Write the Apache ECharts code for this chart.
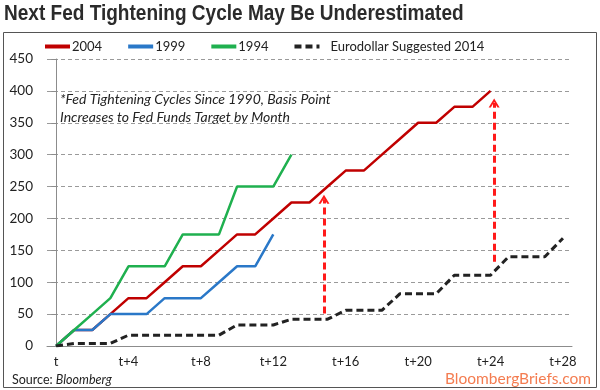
<!DOCTYPE html>
<html>
<head>
<meta charset="utf-8">
<script src="https://cdn.jsdelivr.net/npm/echarts@6/dist/echarts.min.js"></script>
<style>
html,body{margin:0;padding:0;background:#fff;}
#chart{width:600px;height:390px;}
</style>
</head>
<body>
<div id="chart"></div>
<script>
const categories = ['t','t+1','t+2','t+3','t+4','t+5','t+6','t+7','t+8','t+9','t+10','t+11','t+12','t+13','t+14',
  't+15','t+16','t+17','t+18','t+19','t+20','t+21','t+22','t+23','t+24','t+25','t+26','t+27','t+28'];
const cycle2004 = [0,25,25,50,75,75,100,125,125,150,175,175,200,225,225,250,275,275,300,325,350,350,375,375,400];
const cycle1999 = [0,25,25,50,50,50,75,75,75,100,125,125,175];
const cycle1994 = [0,25,50,75,125,125,125,175,175,175,250,250,250,300];
const eurodollar2014 = [0,4,4,4,17,17,17,17,17,17,33,33,33,42,42,42,56,56,56,82,82,82,111,111,111,140,140,140,169];
const yTicks = [0,50,100,150,200,250,300,350,400,450];
// annotation arrows: month position, from value, to value
const arrowX = [14.8, 24.2];
const arrowFrom = [51, 132];
const arrowTo = [230, 381];

const chart = echarts.init(document.getElementById('chart'), null, {renderer:'canvas'});
const font = 'Lato, "Liberation Sans", sans-serif';
const arrowHead = 'path://M0,10 L5,0 L10,10 L8,10 L5,4 L2,10 Z';

const option = {
  animation: false,
  backgroundColor: '#fff',
  legend: {
    left: 38, top: 35, itemWidth: 25, itemHeight: 14, itemGap: 24,
    textStyle: {fontFamily: font, fontSize: 13, color: '#222', padding: [0,0,0,-3]},
    itemStyle: {opacity: 0, color: 'transparent', borderWidth: 0},
    lineStyle: {width: 4},
    data: ['2004','1999','1994', {name: 'Eurodollar Suggested 2014', textStyle: {padding: [0,0,0,6]}}]
  },
  grid: {left: 47, right: 28, top: 59, bottom: 44, containLabel: false},
  xAxis: [{
    type: 'category', data: categories, boundaryGap: true,
    axisLine: {lineStyle: {color: '#8c8c8c'}},
    axisTick: {interval: 3, length: 5, lineStyle: {color: '#8c8c8c'}},
    axisLabel: {interval: 3, fontFamily: font, fontSize: 13, color: '#222', margin: 9}
  }, {
    type: 'value', min: -0.5, max: 28.5, show: false
  }],
  yAxis: {
    type: 'value', min: 0, max: 450, interval: 50,
    axisLine: {show: true, lineStyle: {color: '#8c8c8c'}},
    axisTick: {show: true, length: 5, lineStyle: {color: '#8c8c8c'}},
    axisLabel: {fontFamily: font, fontSize: 13.5, color: '#222', margin: 14,
      formatter: v => yTicks.includes(v) ? String(v) : ''},
    splitLine: {lineStyle: {color: '#9a9a9a', type: [4,3], width: 1}}
  },
  series: [
    {name: '2004', type: 'line', data: cycle2004, symbol: 'none', color: '#c00000', lineStyle: {width: 2.5, color: '#c00000'}},
    {name: '1999', type: 'line', data: cycle1999, symbol: 'none', color: '#2a78c8', lineStyle: {width: 2.5, color: '#2a78c8'}},
    {name: '1994', type: 'line', data: cycle1994, symbol: 'none', color: '#1fb04f', lineStyle: {width: 2.5, color: '#1fb04f'}},
    {name: 'Eurodollar Suggested 2014', type: 'line', data: eurodollar2014, symbol: 'none', color: '#222',
      lineStyle: {width: 3, color: '#222', type: [7,4]}},
    {name: 'arrows', type: 'line', xAxisIndex: 1, data: [], symbol: 'none', silent: true,
      markLine: {
        silent: true, symbol: ['none', arrowHead], symbolSize: [11, 9],
        label: {show: false},
        lineStyle: {color: '#ff1a1a', width: 3, type: [7,4]},
        data: arrowX.map((x, i) => [{coord: [x, arrowFrom[i]]}, {coord: [x, arrowTo[i]]}])
      }}
  ],
  graphic: [
    {type: 'rect', shape: {x: 3.5, y: 32.5, width: 593, height: 355}, style: {fill: 'none', stroke: '#555', lineWidth: 1}, silent: true},
    {type: 'text', x: 4, y: 3, scaleX: 0.865, style: {text: 'Next Fed Tightening Cycle May Be Underestimated',
      font: 'bold 22px "Liberation Sans", Arial, sans-serif', fill: '#2b2b2b'}},
    {type: 'text', left: 60, top: 90, style: {text: '*Fed Tightening Cycles Since 1990, Basis Point\nIncreases to Fed Funds Target by Month',
      font: 'italic 14px ' + font, fill: '#222', lineHeight: 18}},
    {type: 'text', left: 12, top: 373, style: {rich: {a: {fontFamily: font, fontSize: 12.5, fill: '#222'}, b: {fontFamily: font, fontSize: 12.5, fontStyle: 'italic', fill: '#222'}},
      text: '{a|Source: }{b|Bloomberg}'}},
    {type: 'text', right: 9, top: 371, style: {text: 'BloombergBriefs.com', font: '15.5px ' + font, fill: '#f47c50'}}
  ]
};
chart.setOption(option);
</script>
</body>
</html>
